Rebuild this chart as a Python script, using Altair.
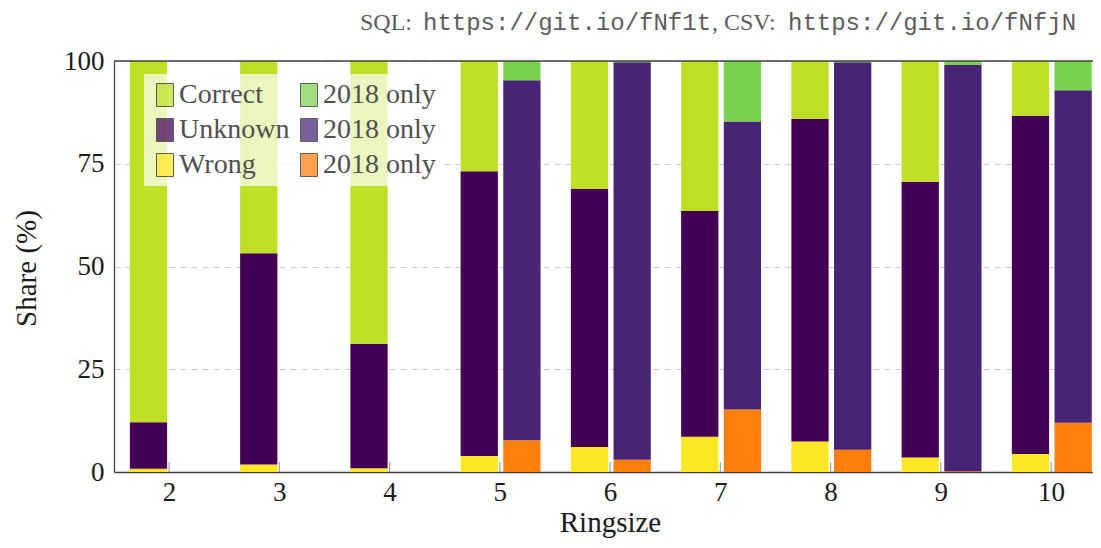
import altair as alt
import pandas as pd

# ---- data ----
ringsizes = [2, 3, 4, 5, 6, 7, 8, 9, 10]
correct = [87.9, 46.8, 68.8, 26.8, 31.1, 36.5, 14.1, 29.4, 13.3]
unknown = [11.3, 51.4, 30.3, 69.3, 62.8, 54.9, 78.5, 67.1, 82.3]
wrong = [0.8, 1.8, 0.9, 3.9, 6.1, 8.6, 7.4, 3.5, 4.4]

ringsizes_2018 = [5, 6, 7, 8, 9, 10]
only2018_correct = [4.7, 0.3, 14.7, 0.3, 1.0, 7.1]
only2018_unknown = [87.6, 96.7, 70.1, 94.3, 98.8, 80.9]
only2018_wrong = [7.7, 3.0, 15.2, 5.4, 0.2, 12.0]

categories = ["Correct", "2018 only (correct)", "Unknown",
              "2018 only (unknown)", "Wrong", "2018 only (wrong)"]
colors = ["#bddf26", "#7ad151", "#440154", "#482475", "#fde725", "#ff7f0e"]
x_ticks = [2, 3, 4, 5, 6, 7, 8, 9, 10]
y_ticks = [0, 25, 50, 75, 100]

rows = []
for i, r in enumerate(ringsizes):
    rows.append({"ringsize": r, "group": "all", "cat": "Wrong", "order": 0, "share": wrong[i]})
    rows.append({"ringsize": r, "group": "all", "cat": "Unknown", "order": 1, "share": unknown[i]})
    rows.append({"ringsize": r, "group": "all", "cat": "Correct", "order": 2, "share": correct[i]})
for i, r in enumerate(ringsizes_2018):
    rows.append({"ringsize": r, "group": "2018", "cat": "2018 only (wrong)", "order": 0, "share": only2018_wrong[i]})
    rows.append({"ringsize": r, "group": "2018", "cat": "2018 only (unknown)", "order": 1, "share": only2018_unknown[i]})
    rows.append({"ringsize": r, "group": "2018", "cat": "2018 only (correct)", "order": 2, "share": only2018_correct[i]})
df = pd.DataFrame(rows)

SERIF = "Liberation Serif"
MONO = "Liberation Mono"

xscale = alt.Scale(domain=[1.5, 10.38], nice=False, zero=False)
yscale = alt.Scale(domain=[0, 100], nice=False)

x_axis = alt.Axis(values=x_ticks, format="d", title="Ringsize", grid=False,
                  ticks=False, labelPadding=7, titleX=496, titleY=59,
                  titleBaseline="alphabetic", titleAlign="center")
y_axis = alt.Axis(values=y_ticks, title="Share (%)", grid=True, ticks=False,
                  labelPadding=10, gridDash=[6, 5], gridColor="#cfcfcf",
                  titleAngle=270, titleX=-79, titleY=207,
                  titleBaseline="alphabetic", titleAlign="center")

bars = alt.Chart(df).transform_stack(
    stack="share", groupby=["ringsize", "group"], sort=[alt.SortField("order")], as_=["y0", "y1"]
).transform_calculate(
    xs="datum.group == 'all' ? datum.ringsize - 0.356 : datum.ringsize + 0.031",
    xe="datum.group == 'all' ? datum.ringsize - 0.018 : datum.ringsize + 0.369",
).mark_bar().encode(
    x=alt.X("xs:Q", scale=xscale, axis=x_axis),
    x2="xe:Q",
    y=alt.Y("y0:Q", scale=yscale, axis=y_axis),
    y2="y1:Q",
    color=alt.Color("cat:N", scale=alt.Scale(domain=categories, range=colors),
                    legend=alt.Legend(
                        title=None, orient="none", legendX=30, legendY=13,
                        columns=2, direction="horizontal",
                        fillColor="rgba(255,255,255,0.7)", padding=7,
                        rowPadding=7, columnPadding=5,
                        symbolType="M-0.74,-1H0.74V1H-0.74Z", symbolSize=529,
                        symbolStrokeColor="#222222", symbolStrokeWidth=1,
                        symbolOpacity=0.72, labelFont=SERIF, labelFontSize=28,
                        labelColor="#505050", labelOffset=0, labelLimit=400,
                        labelExpr="indexof(datum.label, '2018') == 0 ? '2018 only' : datum.label")),
)

ticks = alt.Chart(pd.DataFrame({"t": x_ticks})).mark_rule(color="#a0a0a0", strokeWidth=1.2).encode(
    x=alt.X("t:Q", scale=xscale, axis=x_axis), y=alt.value(401), y2=alt.value(411)
)

top_rule = alt.Chart(pd.DataFrame({"v": [100]})).mark_rule(color="#404040", strokeWidth=1.3).encode(
    y=alt.Y("v:Q", scale=yscale, axis=y_axis)
)


def label(txt, font, x):
    return alt.Chart(pd.DataFrame({"t": [txt]})).mark_text(
        font=font, fontSize=24, align="left", baseline="alphabetic", color="#5c5c5c"
    ).encode(text="t:N", x=alt.value(x), y=alt.value(-31))


chart = alt.layer(
    bars, ticks, top_rule,
    label("SQL:", SERIF, 246),
    label("https://git.io/fNf1t", MONO, 309),
    label(", CSV:", SERIF, 598),
    label("https://git.io/fNfjN", MONO, 674),
).properties(
    width=979, height=411,
    autosize=alt.AutoSizeParams(type="none"),
    padding={"left": 106, "top": 53, "right": 0, "bottom": 68},
).configure_view(stroke=None).configure_axis(
    labelFont=SERIF, labelFontSize=27, labelColor="#1a1a1a",
    titleFont=SERIF, titleFontSize=29, titleFontWeight="normal", titleColor="#1a1a1a",
    domainColor="#404040", domainWidth=1.3,
)

chart.save("out.html", embed_options={"renderer": "svg", "actions": False})
